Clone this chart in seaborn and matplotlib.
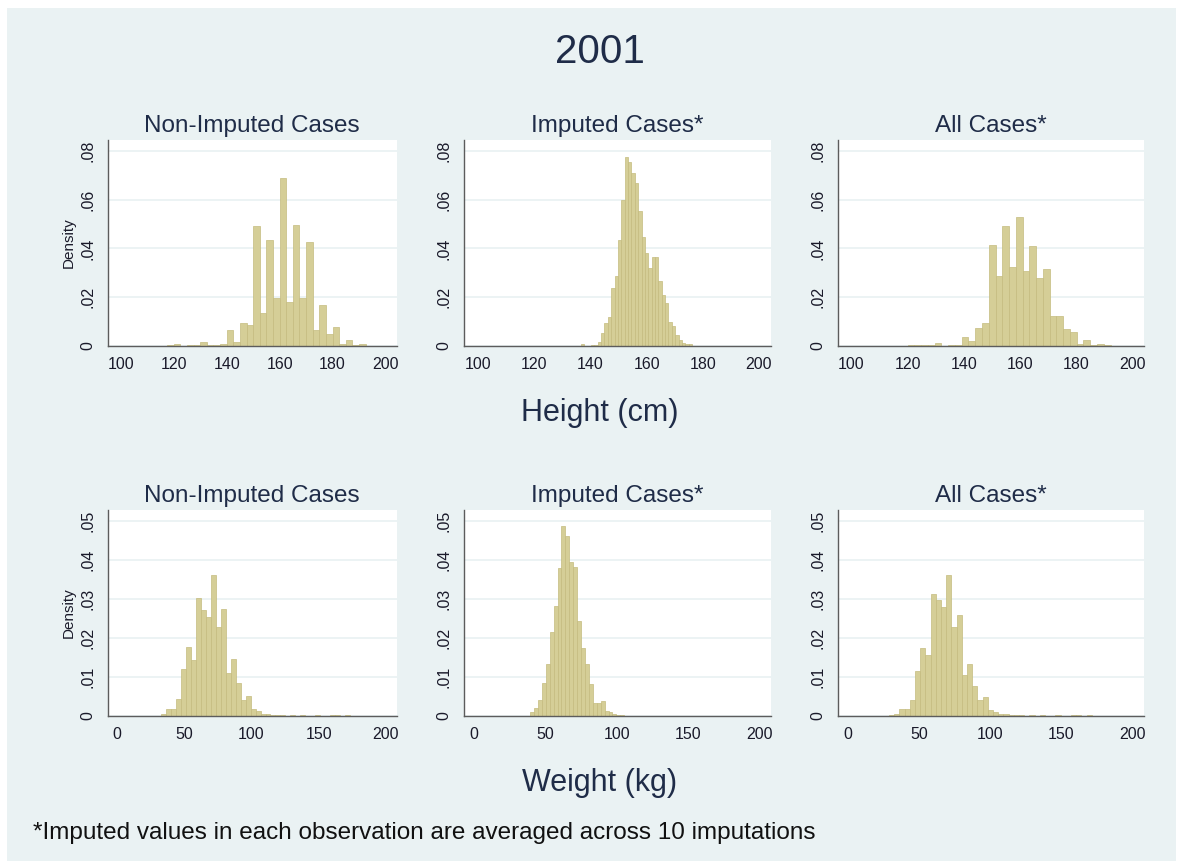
import numpy as np
import pandas as pd
import matplotlib
matplotlib.use("Agg")
import matplotlib.pyplot as plt
from matplotlib.patches import Rectangle
from matplotlib.ticker import FuncFormatter
import seaborn as sns

sns.set_style("white")
plt.rcParams["font.family"] = ["Liberation Sans", "DejaVu Sans"]

# ---------------------------------------------------------------------------
# Binned densities (bin start, bin width, density per bin)
# ---------------------------------------------------------------------------
height_nonimp_start, height_nonimp_width = 100.0, 2.5
height_nonimp_density = [
    0.0002, 0.0002, 0.0001, 0.0001, 0.0001, 0.0002, 0.0002, 0.0003, 0.0007, 0.0002,
    0.0003, 0.0004, 0.0016, 0.0003, 0.0005, 0.0007, 0.0064, 0.0015, 0.0096, 0.0088,
    0.0493, 0.0137, 0.0436, 0.0195, 0.0688, 0.0180, 0.0495, 0.0195, 0.0425, 0.0066,
    0.0167, 0.0049, 0.0077, 0.0008, 0.0025, 0.0004, 0.0007, 0.0002,
]

height_imp_start, height_imp_width = 136.6, 1.2
height_imp_density = [
    0.0007, 0.0000, 0.0001, 0.0003, 0.0004, 0.0018, 0.0055, 0.0093, 0.0120, 0.0237,
    0.0288, 0.0433, 0.0600, 0.0775, 0.0755, 0.0709, 0.0667, 0.0555, 0.0446, 0.0380,
    0.0321, 0.0367, 0.0364, 0.0265, 0.0210, 0.0178, 0.0098, 0.0080, 0.0047, 0.0025,
    0.0011, 0.0007, 0.0008, 0.0002,
]

height_all_start, height_all_width = 100.7, 2.41
height_all_density = [
    0.0002, 0.0002, 0.0002, 0.0002, 0.0002, 0.0002, 0.0002, 0.0002, 0.0005, 0.0003,
    0.0003, 0.0003, 0.0011, 0.0002, 0.0003, 0.0004, 0.0038, 0.0019, 0.0074, 0.0093,
    0.0416, 0.0289, 0.0494, 0.0323, 0.0529, 0.0309, 0.0409, 0.0280, 0.0315, 0.0122,
    0.0122, 0.0071, 0.0059, 0.0008, 0.0023, 0.0005, 0.0007, 0.0003, 0.0002, 0.0001,
]

weight_nonimp_start, weight_nonimp_width = 29.0, 3.7
weight_nonimp_density = [
    0.0001, 0.0004, 0.0017, 0.0017, 0.0044, 0.0120, 0.0176, 0.0142, 0.0302, 0.0270,
    0.0253, 0.0360, 0.0227, 0.0274, 0.0109, 0.0146, 0.0084, 0.0041, 0.0052, 0.0018,
    0.0012, 0.0006, 0.0004, 0.0002, 0.0003, 0.0002, 0.0001, 0.0002, 0.0001, 0.0002,
    0.0001, 0.0001, 0.0002, 0.0001, 0.0001, 0.0002, 0.0002, 0.0001, 0.0002, 0.0001,
    0.0001,
]

weight_imp_start, weight_imp_width = 39.2, 2.75
weight_imp_density = [
    0.0009, 0.0020, 0.0041, 0.0084, 0.0133, 0.0216, 0.0282, 0.0379, 0.0485, 0.0460,
    0.0393, 0.0381, 0.0242, 0.0174, 0.0133, 0.0082, 0.0034, 0.0032, 0.0038, 0.0014,
    0.0009, 0.0005, 0.0003, 0.0002, 0.0001, 0.0001, 0.0000, 0.0001, 0.0001, 0.0000,
    0.0001, 0.0001, 0.0001,
]

weight_all_start, weight_all_width = 29.0, 3.65
weight_all_density = [
    0.0002, 0.0004, 0.0017, 0.0018, 0.0041, 0.0116, 0.0174, 0.0156, 0.0312, 0.0297,
    0.0278, 0.0361, 0.0228, 0.0259, 0.0105, 0.0133, 0.0077, 0.0040, 0.0048, 0.0015,
    0.0011, 0.0006, 0.0004, 0.0002, 0.0003, 0.0002, 0.0001, 0.0002, 0.0001, 0.0002,
    0.0001, 0.0001, 0.0002, 0.0001, 0.0001, 0.0002, 0.0002, 0.0001, 0.0002, 0.0001,
    0.0001,
]

panel_titles = ["Non-Imputed Cases", "Imputed Cases*", "All Cases*"]
height_xticks = [100, 120, 140, 160, 180, 200]
height_yticks = [0, 0.02, 0.04, 0.06, 0.08]
weight_xticks = [0, 50, 100, 150, 200]
weight_yticks = [0, 0.01, 0.02, 0.03, 0.04, 0.05]

main_title = "2001"
height_label = "Height (cm)"
weight_label = "Weight (kg)"
footnote = "*Imputed values in each observation are averaged across 10 imputations"

# ---------------------------------------------------------------------------
# Style
# ---------------------------------------------------------------------------
BG = "#EAF2F3"
BAR = "#D5CE97"
EDGE = "#C4BB7E"
TEXT = "#1F2C48"
AXIS = "#5C5C5C"
W, H = 1184, 867


def fmt_density(v, _pos):
    if abs(v) < 1e-12:
        return "0"
    return f"{v:.2f}".lstrip("0")


def draw_hist(ax, start, width, dens, xlim, ylim, xticks, yticks):
    dens = np.asarray(dens, dtype=float)
    edges = [float(start + width * k) for k in range(len(dens) + 1)]
    centers = [0.5 * (edges[k] + edges[k + 1]) for k in range(len(dens))]
    df = pd.DataFrame({"value": centers, "density": dens})
    sns.histplot(data=df, x="value", weights="density", bins=edges, stat="count",
                 ax=ax, color=BAR, edgecolor=EDGE, linewidth=0.5, alpha=1.0)
    ax.set_facecolor("white")
    ax.set_xlim(*xlim)
    ax.set_ylim(*ylim)
    ax.set_xticks(xticks)
    ax.set_yticks(yticks)
    ax.yaxis.set_major_formatter(FuncFormatter(fmt_density))
    ax.set_xlabel("")
    ax.set_ylabel("")
    ax.yaxis.grid(True, color=BG, linewidth=1.3)
    ax.xaxis.grid(False)
    ax.set_axisbelow(True)
    for side in ("top", "right"):
        ax.spines[side].set_visible(False)
    for side in ("left", "bottom"):
        ax.spines[side].set_visible(True)
        ax.spines[side].set_color(AXIS)
        ax.spines[side].set_linewidth(1.0)
    ax.tick_params(axis="both", direction="out", length=5, width=1.0,
                   color=AXIS, labelcolor="#1A1A2A", labelsize=11.5, pad=3)
    ax.tick_params(axis="y", labelrotation=90, pad=4)
    for lab in ax.get_yticklabels():
        lab.set_va("center")


fig = plt.figure(figsize=(W / 100, H / 100), dpi=100)
fig.patch.set_facecolor("white")
fig.add_artist(Rectangle((7 / W, 1 - 861 / H), (1176 - 7) / W, (861 - 8) / H,
                         transform=fig.transFigure, facecolor=BG,
                         edgecolor="none", zorder=0))

col_left = [107.7, 464.3, 837.7]
col_right = [396.7, 770.7, 1144.0]
row_top = [140.0, 510.0]
row_bottom = [346.0, 716.0]

height_sets = [
    (height_nonimp_start, height_nonimp_width, height_nonimp_density),
    (height_imp_start, height_imp_width, height_imp_density),
    (height_all_start, height_all_width, height_all_density),
]
weight_sets = [
    (weight_nonimp_start, weight_nonimp_width, weight_nonimp_density),
    (weight_imp_start, weight_imp_width, weight_imp_density),
    (weight_all_start, weight_all_width, weight_all_density),
]

rows = [
    (height_sets, (95.1, 204.2), (0, 0.0845), height_xticks, height_yticks),
    (weight_sets, (-7.0, 208.0), (0, 0.0527), weight_xticks, weight_yticks),
]

for r, (sets, xlim, ylim, xt, yt) in enumerate(rows):
    for c, (start, width, dens) in enumerate(sets):
        left = col_left[c] / W
        bottom = 1 - row_bottom[r] / H
        ax = fig.add_axes([left, bottom, (col_right[c] - col_left[c]) / W,
                           (row_bottom[r] - row_top[r]) / H])
        draw_hist(ax, start, width, dens, xlim, ylim, xt, yt)
        cx = (col_left[c] + col_right[c]) / 2 / W
        fig.text(cx, 1 - (row_top[r] - 14) / H, panel_titles[c], ha="center",
                 va="center", fontsize=17.5, color=TEXT)
        if c == 0:
            fig.text(69 / W, 1 - (row_top[r] + row_bottom[r]) / 2 / H, "Density",
                     rotation=90, ha="center", va="center", fontsize=11,
                     color="#1A1A2A")

fig.text(600 / W, 1 - 52 / H, main_title, ha="center", va="center",
         fontsize=29, color=TEXT)
fig.text(600 / W, 1 - 413 / H, height_label, ha="center", va="center",
         fontsize=22, color=TEXT)
fig.text(600 / W, 1 - 783 / H, weight_label, ha="center", va="center",
         fontsize=22, color=TEXT)
fig.text(33 / W, 1 - 833 / H, footnote, ha="left", va="center",
         fontsize=17.5, color="#111111")

fig.savefig("out.png", dpi=100, facecolor=fig.get_facecolor())
